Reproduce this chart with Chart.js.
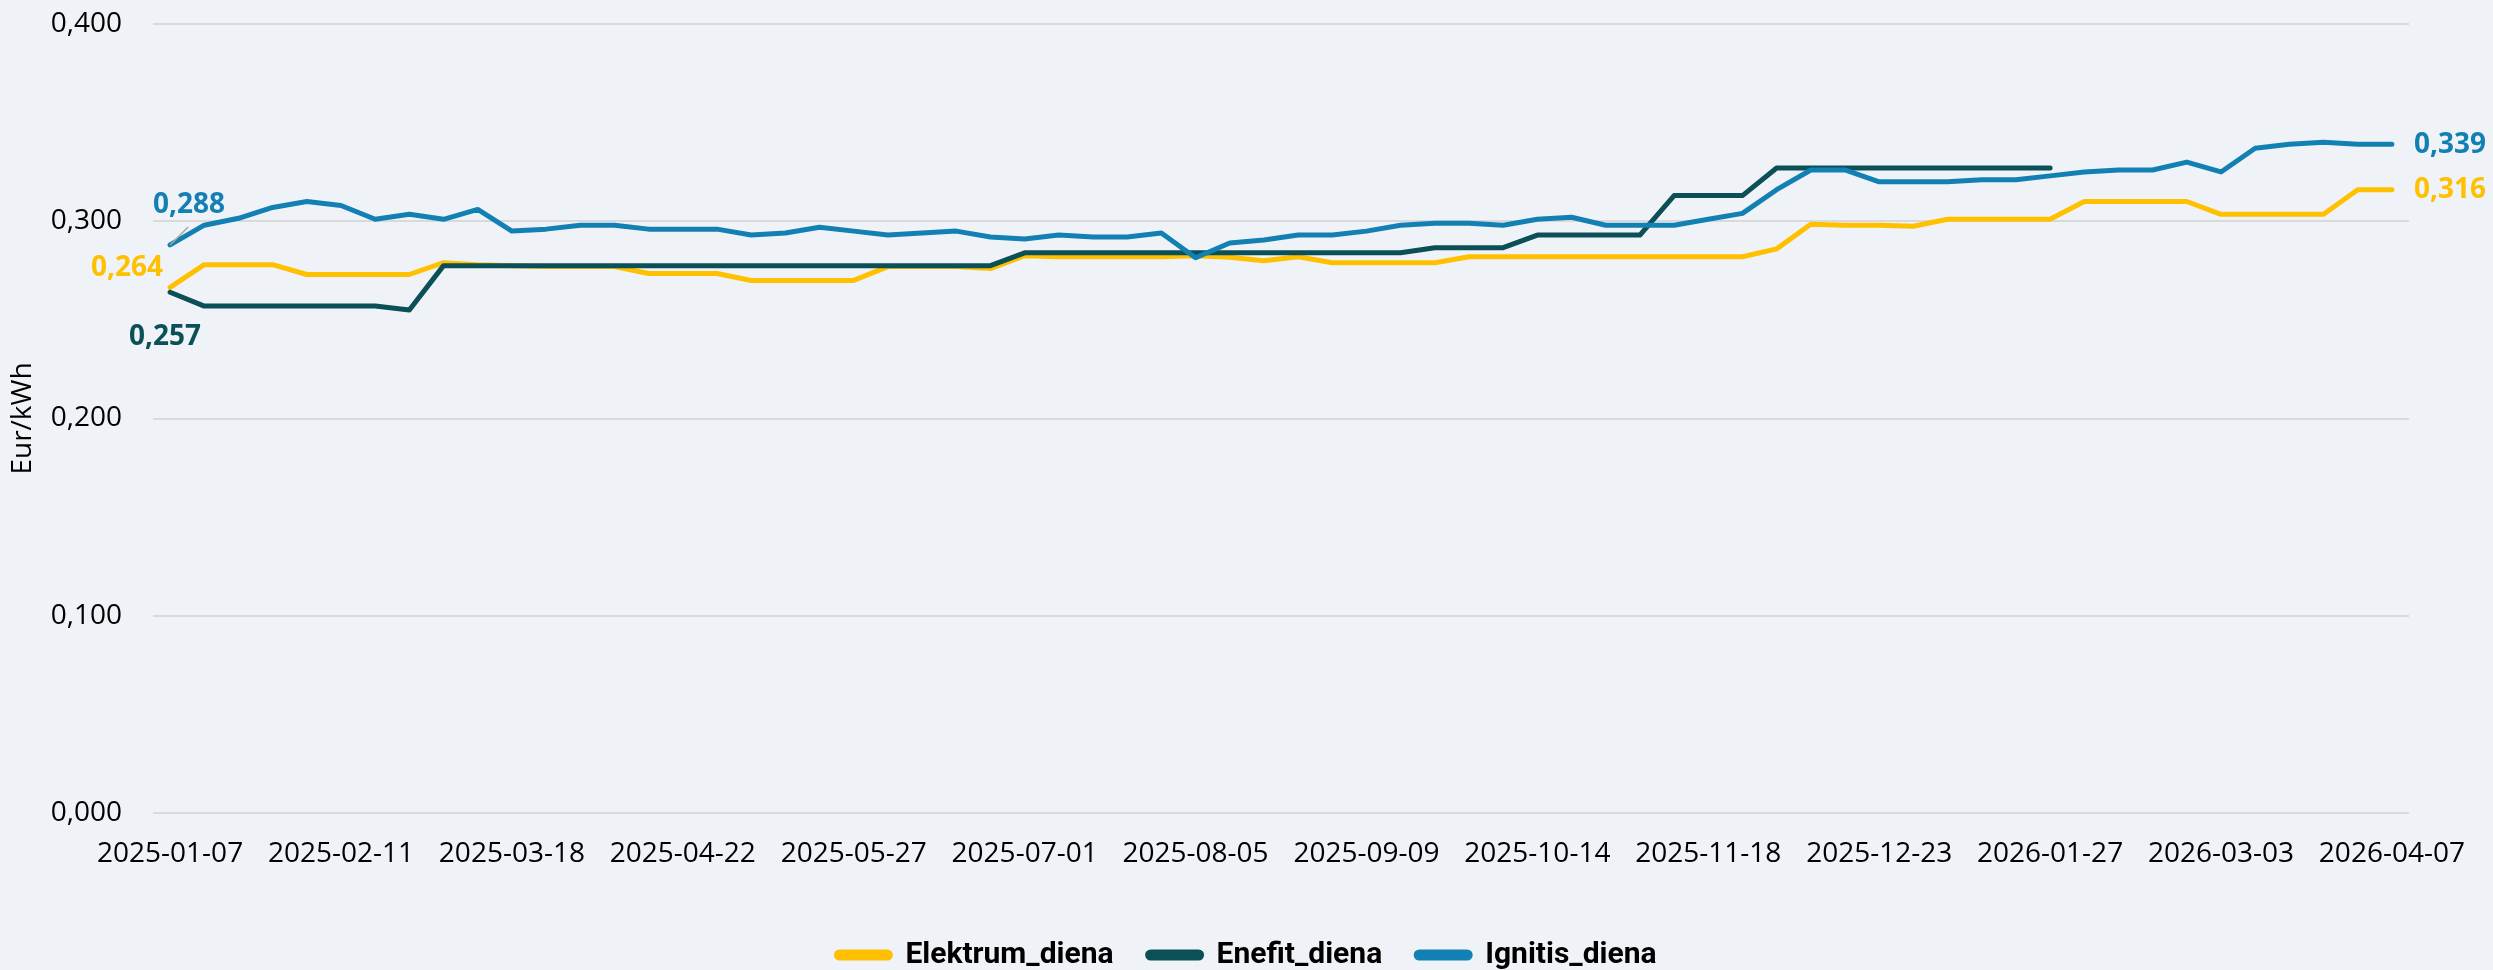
<!DOCTYPE html>
<html lang="lt">
<head>
    <meta charset="UTF-8">
    <title>Elektros kainos - diena</title>
    <script src="https://cdn.jsdelivr.net/npm/chart.js@4.4.0/dist/chart.umd.min.js"></script>
    <style>
        html, body { margin: 0; padding: 0; background: #EFF3F7; overflow: hidden; }
        .wrap { width: 2493px; height: 970px; position: relative; }
    </style>
</head>
<body>
    <div class="wrap">
        <canvas id="priceChart"></canvas>
    </div>

    <script>
        // savaitinės datos
        const weeks = [
            '2025-01-07','2025-01-14','2025-01-21','2025-01-28','2025-02-04','2025-02-11','2025-02-18','2025-02-25',
            '2025-03-04','2025-03-11','2025-03-18','2025-03-25','2025-04-01','2025-04-08','2025-04-15','2025-04-22',
            '2025-04-29','2025-05-06','2025-05-13','2025-05-20','2025-05-27','2025-06-03','2025-06-10','2025-06-17',
            '2025-06-24','2025-07-01','2025-07-08','2025-07-15','2025-07-22','2025-07-29','2025-08-05','2025-08-12',
            '2025-08-19','2025-08-26','2025-09-02','2025-09-09','2025-09-16','2025-09-23','2025-09-30','2025-10-07',
            '2025-10-14','2025-10-21','2025-10-28','2025-11-04','2025-11-11','2025-11-18','2025-11-25','2025-12-02',
            '2025-12-09','2025-12-16','2025-12-23','2025-12-30','2026-01-06','2026-01-13','2026-01-20','2026-01-27',
            '2026-02-03','2026-02-10','2026-02-17','2026-02-24','2026-03-03','2026-03-10','2026-03-17','2026-03-24',
            '2026-03-31','2026-04-07'
        ];

        const elektrum = [
            0.2665, 0.278, 0.278, 0.278, 0.273, 0.273, 0.273, 0.273, 0.279, 0.278,
            0.2775, 0.277, 0.277, 0.277, 0.2735, 0.2735, 0.2735, 0.270, 0.270, 0.270,
            0.270, 0.277, 0.277, 0.277, 0.276, 0.2825, 0.282, 0.282, 0.282, 0.282,
            0.2825, 0.2818, 0.280, 0.282, 0.279, 0.279, 0.279, 0.279, 0.282, 0.282,
            0.282, 0.282, 0.282, 0.282, 0.282, 0.282, 0.282, 0.286, 0.2985, 0.298,
            0.298, 0.2975, 0.301, 0.301, 0.301, 0.301, 0.310, 0.310, 0.310, 0.310,
            0.3035, 0.3035, 0.3035, 0.3035, 0.316, 0.316
        ];

        const enefit = [
            0.264, 0.257, 0.257, 0.257, 0.257, 0.257, 0.257, 0.255, 0.2775, 0.2775,
            0.2775, 0.2775, 0.2775, 0.2775, 0.2775, 0.2775, 0.2775, 0.2775, 0.2775, 0.2775,
            0.2775, 0.2775, 0.2775, 0.2775, 0.2775, 0.284, 0.284, 0.284, 0.284, 0.284,
            0.284, 0.284, 0.284, 0.284, 0.284, 0.284, 0.284, 0.2866, 0.2866, 0.2866,
            0.293, 0.293, 0.293, 0.293, 0.313, 0.313, 0.313, 0.327, 0.327, 0.327,
            0.327, 0.327, 0.327, 0.327, 0.327, 0.327, null, null, null, null,
            null, null, null, null, null, null
        ];

        const ignitis = [
            0.288, 0.298, 0.3015, 0.307, 0.310, 0.308, 0.301, 0.3035, 0.301, 0.306,
            0.295, 0.296, 0.298, 0.298, 0.296, 0.296, 0.296, 0.293, 0.294, 0.297,
            0.295, 0.293, 0.294, 0.295, 0.292, 0.291, 0.293, 0.292, 0.292, 0.294,
            0.2815, 0.289, 0.2905, 0.293, 0.293, 0.295, 0.298, 0.299, 0.299, 0.298,
            0.301, 0.302, 0.298, 0.298, 0.298, 0.301, 0.304, 0.316, 0.326, 0.326,
            0.320, 0.320, 0.320, 0.321, 0.321, 0.323, 0.325, 0.326, 0.326, 0.330,
            0.325, 0.337, 0.339, 0.340, 0.339, 0.339
        ];

        const yTicks = [0, 0.1, 0.2, 0.3, 0.4];

        // reikšmių etiketės (kaip originale)
        const pointLabels = [
            { ds: 2, idx: 0,  text: '0,288', dx: 19,  dy: -40, align: 'center', leader: true },
            { ds: 0, idx: 0,  text: '0,264', dx: -7,  dy: -19, align: 'right' },
            { ds: 1, idx: 0,  text: '0,257', dx: -5,  dy: 45,  align: 'center' },
            { ds: 2, idx: 65, text: '0,339', dx: 22,  dy: 1,   align: 'left' },
            { ds: 0, idx: 65, text: '0,316', dx: 22,  dy: 0,   align: 'left' }
        ];

        const COLORS = ['#FFC000', '#0B5057', '#1380B4'];
        const FONT = "'Open Sans', 'Noto Sans', sans-serif";

        const labelPlugin = {
            id: 'pointLabels',
            afterDatasetsDraw(chart) {
                const ctx = chart.ctx;
                ctx.save();
                ctx.font = "bold 28px " + FONT;
                ctx.textBaseline = 'middle';
                pointLabels.forEach(l => {
                    const pt = chart.getDatasetMeta(l.ds).data[l.idx];
                    if (!pt) return;
                    if (l.leader) {
                        ctx.strokeStyle = '#A6A6A6';
                        ctx.lineWidth = 1.5;
                        ctx.beginPath();
                        ctx.moveTo(pt.x, pt.y);
                        ctx.lineTo(pt.x + 18, pt.y - 18);
                        ctx.stroke();
                    }
                    ctx.fillStyle = COLORS[l.ds];
                    ctx.textAlign = l.align;
                    ctx.fillText(l.text, pt.x + l.dx, pt.y + l.dy);
                });
                ctx.restore();
            }
        };

        const bgPlugin = {
            id: 'bg',
            beforeDraw(chart) {
                const ctx = chart.ctx;
                ctx.save();
                ctx.fillStyle = '#EFF3F7';
                ctx.fillRect(0, 0, chart.width, chart.height);
                ctx.restore();
            }
        };

        // legenda centruojama pagal visą drobę, ne pagal grafiko plotą
        const legendShift = {
            id: 'legendShift',
            afterLayout(chart) {
                const lg = chart.legend;
                if (!lg) return;
                const shift = (chart.width - (lg.left + lg.right)) / 2;
                lg.left += shift;
                lg.right += shift;
            }
        };

        function line(label, data, color, order) {
            return {
                label: label,
                data: data,
                borderColor: color,
                backgroundColor: color,
                borderWidth: 5,
                pointRadius: 0,
                tension: 0,
                borderCapStyle: 'round',
                borderJoinStyle: 'round',
                spanGaps: false,
                order: order
            };
        }

        new Chart(document.getElementById('priceChart'), {
            type: 'line',
            data: {
                labels: weeks,
                datasets: [
                    line('Elektrum_diena', elektrum, COLORS[0], 3),
                    line('Enefit_diena', enefit, COLORS[1], 2),
                    line('Ignitis_diena', ignitis, COLORS[2], 1)
                ]
            },
            options: {
                responsive: true,
                maintainAspectRatio: false,
                animation: false,
                layout: { padding: { left: 0, right: 84, top: 24, bottom: -10 } },
                plugins: {
                    tooltip: { enabled: false },
                    legend: {
                        position: 'bottom',
                        reverse: true,
                        labels: {
                            boxWidth: 54,
                            boxHeight: 6,
                            useBorderRadius: true,
                            borderRadius: 3,
                            padding: 34,
                            color: '#000',
                            font: { family: "Roboto, 'Open Sans', sans-serif", size: 30, weight: 'bold' }
                        }
                    }
                },
                scales: {
                    x: {
                        offset: true,
                        grid: { display: false, drawTicks: false },
                        border: { display: false },
                        afterFit(scale) { scale.height = 93; },
                        ticks: {
                            autoSkip: false,
                            maxRotation: 0,
                            padding: 24,
                            color: '#000',
                            font: { family: FONT, size: 28 },
                            callback(v, i) { return i % 5 === 0 ? weeks[i] : ''; }
                        }
                    },
                    y: {
                        min: 0,
                        max: 0.4,
                        afterFit(scale) {
                            scale.width = 153;
                            scale.paddingTop = 0;
                            scale.paddingBottom = 0;
                        },
                        afterBuildTicks(scale) { scale.ticks = yTicks.map(v => ({ value: v })); },
                        grid: { color: '#D9D9D9', lineWidth: 2, drawTicks: false },
                        border: { display: false },
                        title: {
                            display: true,
                            text: 'Eur/kWh',
                            color: '#000',
                            padding: { top: 6, bottom: 0 },
                            font: { family: FONT, size: 28 }
                        },
                        ticks: {
                            padding: 31,
                            color: '#000',
                            font: { family: FONT, size: 28 },
                            callback(v) { return v.toFixed(3).replace('.', ','); }
                        }
                    }
                }
            },
            plugins: [bgPlugin, labelPlugin, legendShift]
        });
    </script>
</body>
</html>
